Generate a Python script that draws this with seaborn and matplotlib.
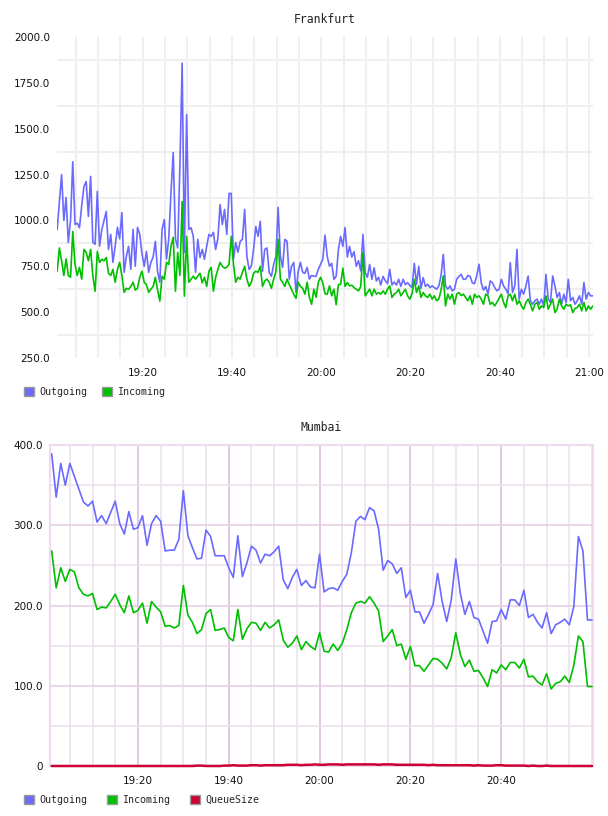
import numpy as np
import pandas as pd
import matplotlib
matplotlib.use("Agg")
import matplotlib.pyplot as plt
import matplotlib.dates as mdates
from matplotlib.patches import Patch
from matplotlib.ticker import MultipleLocator, FixedLocator, FuncFormatter
import seaborn as sns

# Frankfurt, one sample every 30 s from 19:00:50
fra_start = "2015-01-01 19:00:50"
fra_outgoing = [
    950, 1100, 1250, 1000, 1125, 880, 1000, 1320, 978, 985,
    960, 1080, 1185, 1212, 1022, 1240, 880, 870, 1158, 860,
    950, 1000, 1049, 842, 924, 771, 860, 962, 900, 1043,
    717, 804, 859, 733, 951, 750, 962, 924, 820, 750,
    831, 717, 771, 800, 886, 720, 663, 951, 1005, 790,
    900, 1150, 1370, 900, 850, 1300, 1858, 826, 1576, 951,
    960, 913, 717, 897, 798, 842, 788, 859, 924, 913,
    935, 842, 900, 1087, 978, 1060, 924, 1147, 1147, 788,
    880, 826, 886, 897, 1060, 804, 733, 750, 842, 967,
    913, 995, 723, 842, 850, 717, 696, 760, 804, 1071,
    804, 744, 897, 886, 680, 750, 771, 608, 723, 771,
    717, 712, 744, 680, 700, 696, 696, 733, 760, 788,
    920, 804, 750, 766, 679, 695, 840, 913, 859, 962,
    800, 859, 800, 830, 750, 780, 725, 924, 715, 690,
    760, 679, 742, 670, 690, 648, 695, 672, 655, 733,
    648, 664, 648, 679, 640, 679, 650, 661, 645, 634,
    766, 652, 750, 630, 688, 640, 652, 634, 643, 634,
    625, 643, 700, 815, 643, 625, 643, 616, 625, 680,
    695, 706,
    679, 680, 700, 695, 660, 655, 700, 761, 660, 620,
    640, 598, 670, 661, 635, 616, 625, 679, 643, 625,
    600, 770, 607, 643, 842, 571, 625, 598, 643, 697,
    562, 543, 562, 571, 543, 571, 534, 706, 571, 553,
    697, 643, 580, 607, 543, 598, 553, 679, 562, 580,
    543, 562, 589, 543, 661, 571, 607, 589, 589,
]
fra_incoming = [
    723, 850, 780, 700, 790, 700, 690, 940, 760, 700,
    744, 680, 842, 826, 780, 842, 696, 614, 831, 771,
    788, 780, 798, 712, 700, 733, 663, 733, 771, 700,
    608, 630, 625, 640, 663, 620, 630, 690, 723, 663,
    650, 608, 625, 640, 690, 620, 560, 696, 680, 771,
    760, 860, 908, 614, 826, 700, 1103, 587, 913, 663,
    680, 696, 680, 696, 712, 660, 690, 640, 723, 744,
    614, 690, 733, 771, 750, 740, 745, 760, 913, 760,
    663, 690, 680, 717, 750, 680, 640, 663, 712, 723,
    717, 750, 640, 670, 680, 663, 630, 680, 720, 897,
    680, 663, 640, 680, 650, 625, 598, 575, 663, 640,
    630, 598, 663, 581, 543, 625, 581, 663, 690, 660,
    600, 598, 643, 589, 625, 540, 650, 652, 740, 640,
    661, 643, 647, 634, 625, 616, 640, 824, 589, 607,
    625, 589, 625, 598, 607, 598, 616, 598, 625, 643,
    580, 598, 607, 625, 589, 607, 625, 589, 571, 600,
    679, 607, 643, 580, 607, 589, 580, 598, 571, 589,
    562, 571, 620, 697, 534, 598, 571, 598, 543, 598,
    607, 590,
    598, 580, 562, 589, 543, 598, 580, 589, 571, 543,
    598, 589, 543, 553, 534, 553, 575, 598, 553, 525,
    589, 598, 562, 598, 543, 562, 534, 516, 553, 571,
    543, 507, 543, 553, 516, 534, 525, 589, 516, 543,
    571, 498, 516, 571, 534, 516, 543, 534, 540, 498,
    520, 525, 543, 507, 553, 507, 534, 516, 534,
]

# Mumbai, one sample per minute from 19:01
mum_start = "2015-01-01 19:01:00"
mum_outgoing = [
    389, 335, 377, 350, 377, 361, 345, 329, 324, 330,
    304, 312, 302, 316, 330, 302, 289, 317, 295, 297,
    312, 275, 302, 312, 305, 268, 269, 269, 282, 343,
    287, 272, 258, 259, 294, 286, 262, 262, 262, 247,
    235, 287, 236, 253, 274, 269, 253, 264, 262, 267,
    274, 232, 221, 235, 245,
    225, 231, 223, 222, 264, 217, 221, 222, 219, 230,
    239, 266, 305, 311, 307, 322, 318, 295, 244, 256,
    252, 240, 247, 210, 219, 192, 192, 178, 189, 201,
    240, 205, 180, 207, 258, 215, 189, 205, 185, 183,
    168, 153, 180, 181, 195, 183, 207, 207, 200, 219,
    185, 189, 179, 172, 191, 165, 176, 179, 183, 176,
    199, 286, 268, 182, 182,
]
mum_incoming = [
    268, 222, 247, 230, 245, 242, 222, 214, 212, 215,
    195, 198, 197, 205, 214, 201, 191, 212, 191, 194,
    203, 178, 205, 198, 192, 174, 175, 172, 175, 225,
    188, 179, 165, 170, 190, 195, 169, 170, 172, 160,
    156, 195, 158, 171, 179, 178, 169, 179, 172, 176,
    182, 157, 148, 153, 162,
    145, 155, 149, 145, 166, 143, 142, 152, 144, 153,
    170, 191, 203, 205, 203, 211, 203, 193, 155, 162,
    170, 150, 152, 133, 149, 125, 125, 118, 126, 134,
    133, 128, 121, 135, 166, 139, 124, 132, 118, 119,
    110, 99, 120, 116, 126, 120, 129, 129, 122, 133,
    111, 112, 105, 101, 115, 96, 103, 105, 112, 104,
    126, 162, 155, 99, 99,
]
mum_queue = [
    0, 0, 0, 0, 0, 0, 0, 0, 0, 0,
    0, 0, 0, 0, 0, 0, 0, 0, 0, 0,
    0, 0, 0, 0, 0, 0, 0, 0, 0, 0,
    0, 0, 0.5, 0.5, 0, 0, 0, 0, 0.5, 0.5,
    1, 0.5, 0.5, 0.5, 1, 1, 0.5, 1, 1, 1,
    1, 1, 1.5, 1.5, 1.5, 1, 1.5, 1.5, 2, 1.5,
    1.5, 2, 2, 2, 1.5, 2, 2, 2, 2, 2,
    2, 2, 1.5, 2, 2, 2, 1.5, 1.5, 1.5, 1.5,
    1.5, 1.5, 1.5, 1, 1.5, 1, 1, 1, 1, 1,
    1, 1, 1, 0.5, 1, 0.5, 0.5, 0.5, 1, 1,
    0.5, 0.5, 0.5, 0.5, 0.5, 0, 0.5, 0, 0, 0.5,
    0, 0, 0, 0, 0, 0, 0, 0, 0, 0,
]

series_names = ["Outgoing", "Incoming", "QueueSize"]
colors = {"Outgoing": "#6a6aff", "Incoming": "#00bf00", "QueueSize": "#cc0033"}

fra_labels = ["250.0", "500.0", "750.0", "1000.0", "1250.0", "1500.0", "1750.0", "2000.0"]
mum_labels = ["0", "100.0", "200.0", "300.0", "400.0"]
mum_xticks = ["19:20", "19:40", "20:00", "20:20", "20:40"]

# long-form tables for seaborn
fra_time = pd.date_range(fra_start, periods=len(fra_outgoing), freq="30s")
fra = pd.DataFrame({
    "time": list(fra_time) * 2,
    "value": fra_outgoing + fra_incoming,
    "series": ["Outgoing"] * len(fra_time) + ["Incoming"] * len(fra_time),
})
mum_time = pd.date_range(mum_start, periods=len(mum_outgoing), freq="1min")
mum = pd.DataFrame({
    "time": list(mum_time) * 3,
    "value": mum_outgoing + mum_incoming + mum_queue,
    "series": ["Outgoing"] * len(mum_time) + ["Incoming"] * len(mum_time) + ["QueueSize"] * len(mum_time),
})

sns.set_style("white")
plt.rcParams["font.family"] = ["DejaVu Sans"]
mono = "DejaVu Sans Mono"

W, H = 608, 816
fig = plt.figure(figsize=(W / 100, H / 100), dpi=100)
ax1 = fig.add_axes([57 / W, 1 - 358 / H, 536 / W, 321 / H])
ax2 = fig.add_axes([50 / W, 1 - 766 / H, 543 / W, 321 / H])

# ---- Frankfurt ----
sns.lineplot(data=fra, x="time", y="value", hue="series", hue_order=series_names[:2],
             palette=colors, linewidth=1.2, estimator=None, legend=False, ax=ax1)
ax1.set_xlim(pd.Timestamp("2015-01-01 19:00:48"), pd.Timestamp("2015-01-01 21:00:52"))
ax1.set_ylim(250, 2000)
ax1.yaxis.set_major_locator(FixedLocator([float(s) for s in fra_labels]))
ax1.set_yticklabels(fra_labels)
ax1.yaxis.set_minor_locator(FixedLocator(np.arange(375, 2000, 250)))
ax1.xaxis.set_major_locator(mdates.MinuteLocator(byminute=[0, 20, 40]))
ax1.xaxis.set_major_formatter(mdates.DateFormatter("%H:%M"))
ax1.xaxis.set_minor_locator(mdates.MinuteLocator(byminute=range(0, 60, 5)))
ax1.xaxis.grid(True, which="both", color="#ebebeb", linewidth=1.1)
ax1.yaxis.grid(True, which="minor", color="#efefef", linewidth=1.5)
ax1.yaxis.grid(False, which="major")
for s in ax1.spines.values():
    s.set_visible(False)
ax1.set_title("Frankfurt", fontfamily=mono, fontsize=8.3, pad=10, color="#222222")

# ---- Mumbai ----
sns.lineplot(data=mum, x="time", y="value", hue="series", hue_order=series_names,
             palette=colors, linewidth=1.2, estimator=None, legend=False, ax=ax2)
for ln in ax2.get_lines():
    ln.set_clip_on(False)
    ln.set_zorder(3)
ax2.get_lines()[2].set_linewidth(1.8)
ax2.set_xlim(pd.Timestamp("2015-01-01 19:00:38"), pd.Timestamp("2015-01-01 21:00:13"))
ax2.set_ylim(0, 400)
ax2.yaxis.set_major_locator(FixedLocator([float(s) for s in mum_labels]))
ax2.set_yticklabels(mum_labels)
ax2.yaxis.set_minor_locator(MultipleLocator(50))
ax2.xaxis.set_major_locator(FixedLocator(mdates.date2num(pd.to_datetime(["2015-01-01 " + t for t in mum_xticks]))))
ax2.xaxis.set_major_formatter(FuncFormatter(lambda v, p: mdates.num2date(v).strftime("%H:%M")))
ax2.xaxis.set_minor_locator(mdates.MinuteLocator(byminute=range(0, 60, 5)))
ax2.grid(True, which="minor", color="#ece2ec", linewidth=1.2)
ax2.yaxis.grid(True, which="major", color="#e6d0e6", linewidth=1.2)
ax2.xaxis.grid(True, which="major", color="#dcc0dc", linewidth=1.2)
for s in ax2.spines.values():
    s.set_color("#eedcee")
    s.set_linewidth(1.6)
ax2.set_title("Mumbai", fontfamily=mono, fontsize=8.3, pad=10, color="#222222")

for ax in (ax1, ax2):
    ax.set_xlabel("")
    ax.set_ylabel("")
    ax.set_axisbelow(True)
    ax.tick_params(which="both", length=0, labelsize=7.5, colors="#111111")
    ax.tick_params(axis="y", pad=5)
    ax.tick_params(axis="x", pad=7)

# legends below each panel
def add_legend(ax, names, x0, spacing):
    handles = [Patch(facecolor=colors[n], edgecolor="#999999", linewidth=1) for n in names]
    ax.legend(handles, names, loc="center left", bbox_to_anchor=(x0, -0.106), ncol=len(names),
              frameon=False, prop={"family": mono, "size": 7.2}, handlelength=1.0, handleheight=1.0,
              handletextpad=0.5, columnspacing=spacing, borderaxespad=0, borderpad=0)

add_legend(ax1, series_names[:2], (24 - 57) / 536, 1.5)
add_legend(ax2, series_names, (24 - 50) / 543, 2.0)

fig.savefig("out.png", dpi=100)
plt.close(fig)
